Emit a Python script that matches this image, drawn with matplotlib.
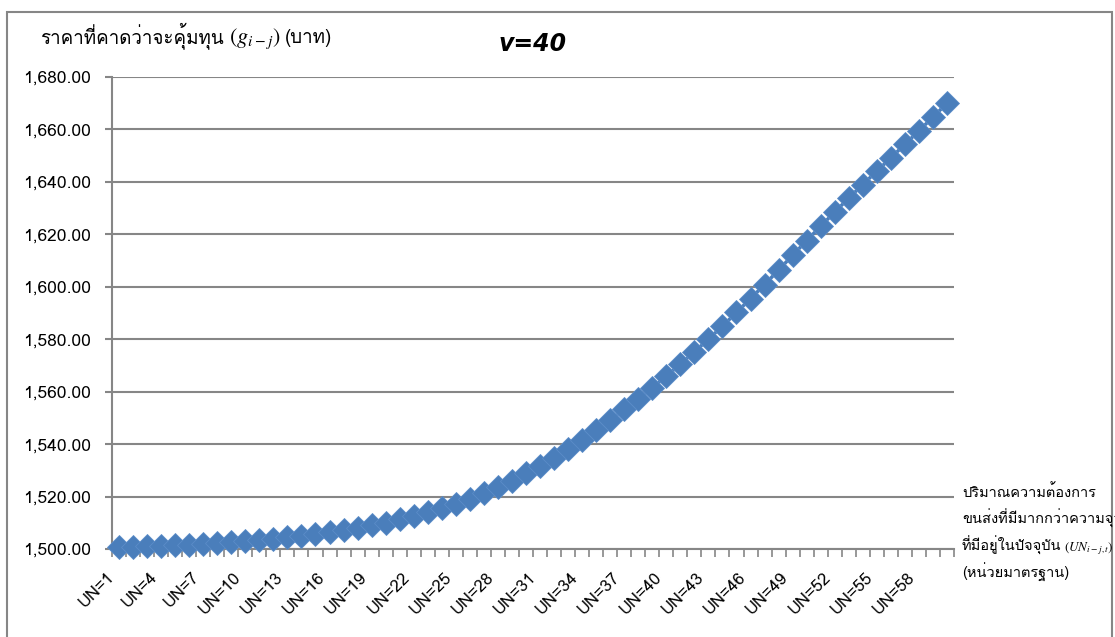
import matplotlib
matplotlib.use("Agg")
import matplotlib.pyplot as plt
from matplotlib import font_manager, ft2font
from matplotlib.ticker import FuncFormatter, FixedLocator
from matplotlib.patches import Rectangle
from matplotlib.transforms import ScaledTranslation

# values (v=40)
categories = ["UN=%d" % n for n in range(1, 61)]
prices = [1500.8, 1500.9, 1501.1, 1501.3, 1501.5, 1501.7, 1502.0, 1502.3, 1502.6, 1503.0,
          1503.4, 1503.9, 1504.4, 1505.0, 1505.6, 1506.3, 1507.1, 1508.0, 1509.0, 1510.1,
          1511.3, 1512.6, 1514.0, 1515.6, 1517.3, 1519.2, 1521.3, 1523.6, 1526.1, 1528.8,
          1531.7, 1534.8, 1538.1, 1541.6, 1545.3, 1549.2, 1553.2, 1557.3, 1561.5, 1565.9,
          1570.5, 1575.2, 1580.0, 1585.0, 1590.2, 1595.5, 1600.8, 1606.4, 1612.0, 1617.6,
          1623.1, 1628.5, 1633.8, 1639.0, 1644.1, 1649.2, 1654.3, 1659.5, 1664.7, 1670.0]
y_ticks = [1500, 1520, 1540, 1560, 1580, 1600, 1620, 1640, 1660, 1680]

title = "v=40"
y_label = ["ราคาที่คาดว่าจะคุ้มทุน", "$(g_{i-j})$", "(บาท)"]
x_label = [["ปริมาณความต้องการ"],
           ["ขนส่งที่มีมากกว่าความจุว่าง"],
           ["ที่มีอยู่ในปัจจุบัน", "$(UN_{i-j,t})$"],
           ["(หน่วยมาตรฐาน)"]]


def find_thai_font():
    # look for any installed font that has Thai glyphs
    for f in font_manager.fontManager.ttflist:
        try:
            ft = ft2font.FT2Font(f.fname)
            if ft.get_char_index(0x0E23) and ft.get_char_index(0x0E32):
                return f.name
        except Exception:
            pass
    return None


thai = find_thai_font()
fams = [thai, "DejaVu Sans"] if thai else ["DejaVu Sans"]
plt.rcParams["font.family"] = fams
plt.rcParams["mathtext.fontset"] = "stix"

grey = "#868686"
blue = "#4a7ebb"

fig = plt.figure(figsize=(11.15, 6.37), dpi=100)
ax = fig.add_axes([112 / 1115, 88 / 637, 842 / 1115, 472 / 637])

xs = list(range(len(prices)))
ax.plot(xs, prices, color=blue, lw=2.5, marker="D", markersize=12,
        markerfacecolor=blue, markeredgecolor="#5b8cc8", markeredgewidth=0.6,
        zorder=3, clip_on=False)

ax.set_xlim(-0.5, len(prices) - 0.5)
ax.set_ylim(y_ticks[0], y_ticks[-1])
ax.set_yticks(y_ticks)
ax.yaxis.set_major_formatter(FuncFormatter(lambda v, p: "{:,.2f}".format(v)))
ax.grid(axis="y", color=grey, lw=1.5)
ax.set_axisbelow(True)

ax.set_xticks(xs[::3])
ax.set_xticklabels(categories[::3], rotation=45, ha="right", rotation_mode="anchor")
ax.xaxis.set_minor_locator(FixedLocator([i - 0.5 for i in range(len(prices) + 1)]))
ax.tick_params(axis="x", which="major", length=0, pad=9, labelsize=12)
ax.tick_params(axis="x", which="minor", length=6, width=1.2, color=grey)
ax.tick_params(axis="y", length=5, width=1.5, color=grey, labelsize=12.5, pad=10)

# excel puts the rotated labels a bit left of / below the tick
shift = ScaledTranslation(-12 / 100, -8 / 100, fig.dpi_scale_trans)
for lab in ax.get_xticklabels():
    lab.set_transform(lab.get_transform() + shift)

for s in ["top", "right"]:
    ax.spines[s].set_visible(False)
ax.spines["left"].set_color(grey)
ax.spines["left"].set_linewidth(1.5)
ax.spines["bottom"].set_color(grey)
ax.spines["bottom"].set_linewidth(1.5)

# chart area border
fig.patches.append(Rectangle((7 / 1115, -0.02), 1105 / 1115, (637 - 12) / 637 + 0.02,
                             transform=fig.transFigure, fill=False,
                             edgecolor=grey, lw=1.5))

fig.text(533 / 1115, 1 - 44 / 637, title, fontsize=17, fontweight="bold",
         style="italic", ha="center", va="center", family="DejaVu Sans")

# y axis title in three pieces so the math part can be larger
renderer = fig.canvas.get_renderer()
x0 = 40
for part, size in zip(y_label, [13.5, 16, 13.5]):
    t = fig.text(x0 / 1115, 1 - 43 / 637, part, fontsize=size, ha="left", va="baseline")
    x0 += t.get_window_extent(renderer).width + 5

# x axis title, right of the plot
for k, pieces in enumerate(x_label):
    x0 = 962
    for j, part in enumerate(pieces):
        size = 10.5 if j == 0 else 9.5
        t = fig.text(x0 / 1115, 1 - (497 + 27 * k) / 637, part, fontsize=size,
                     ha="left", va="baseline")
        x0 += t.get_window_extent(renderer).width + 3

fig.savefig("out.png", dpi=100)
